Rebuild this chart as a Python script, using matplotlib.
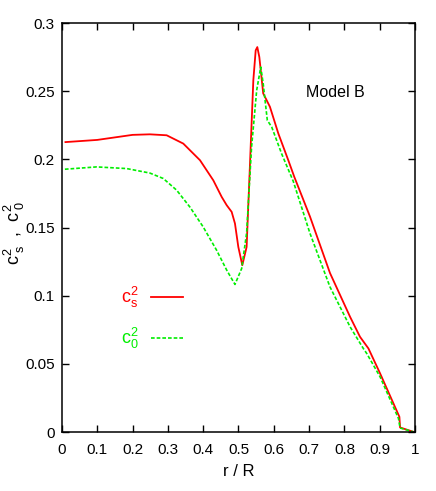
import matplotlib
matplotlib.use("Agg")
import matplotlib.pyplot as plt

plt.rcParams['font.family'] = ['Liberation Sans', 'DejaVu Sans']
plt.rcParams['mathtext.fontset'] = 'custom'
plt.rcParams['mathtext.rm'] = 'Liberation Sans'
plt.rcParams['mathtext.it'] = 'Liberation Sans'

# c_s^2 (red, solid)
r_s = [0.01, 0.10, 0.20, 0.249, 0.2966, 0.3437, 0.391, 0.4286, 0.4524, 0.4666, 0.4807,
       0.490, 0.4995, 0.5108, 0.523, 0.5326, 0.542, 0.5487, 0.5533, 0.559, 0.570,
       0.589, 0.6128, 0.641, 0.658, 0.7025, 0.759, 0.816, 0.844, 0.868, 0.901,
       0.9556, 0.9575, 0.995]
c_s = [0.2127, 0.2143, 0.2180, 0.2184, 0.2177, 0.2116, 0.1994, 0.1847, 0.1725, 0.1664, 0.1615,
       0.1530, 0.1358, 0.1224, 0.1358, 0.1970, 0.2580, 0.2800, 0.2824, 0.2751, 0.2484,
       0.2386, 0.2190, 0.1994, 0.1872, 0.1580, 0.1167, 0.0845, 0.0699, 0.0613, 0.0430,
       0.0112, 0.0034, 0.0002]

# c_0^2 (green, dashed)
r_0 = [0.0085, 0.098, 0.183, 0.249, 0.287, 0.325, 0.3626, 0.400, 0.438, 0.4666,
       0.490, 0.509, 0.523, 0.537, 0.5515, 0.563, 0.570, 0.5816, 0.594, 0.6224,
       0.655, 0.7025, 0.759, 0.816, 0.8535, 0.863, 0.901, 0.953, 0.9575, 0.995]
c_0 = [0.1928, 0.1945, 0.1933, 0.1900, 0.1860, 0.1774, 0.1650, 0.1505, 0.1334, 0.1188,
       0.1083, 0.1200, 0.1460, 0.2090, 0.2507, 0.2677, 0.2555, 0.2287, 0.2238, 0.2040,
       0.1840, 0.1457, 0.1065, 0.0772, 0.0613, 0.0577, 0.0405, 0.0100, 0.0030, 0.0002]

x_ticks = [0, 0.1, 0.2, 0.3, 0.4, 0.5, 0.6, 0.7, 0.8, 0.9, 1]
x_labels = ['0', '0.1', '0.2', '0.3', '0.4', '0.5', '0.6', '0.7', '0.8', '0.9', '1']
y_ticks = [0, 0.05, 0.1, 0.15, 0.2, 0.25, 0.3]
y_labels = ['0', '0.05', '0.1', '0.15', '0.2', '0.25', '0.3']

fig = plt.figure(figsize=(4.36, 4.91), dpi=100)
ax = fig.add_axes([0.142, 0.120, 0.810, 0.833])

red = '#ff0000'
green = '#00ee00'
ax.plot(r_s, c_s, color=red, lw=1.3, label=r'c$^2_{\rm s}$')
ax.plot(r_0, c_0, color=green, lw=1.2, ls=(0, (2.2, 1.2)), label=r'c$^2_{\rm 0}$')

ax.set_xlim(0, 1)
ax.set_ylim(0, 0.3)
ax.set_xticks(x_ticks)
ax.set_xticklabels(x_labels)
ax.set_yticks(y_ticks)
ax.set_yticklabels(y_labels)
ax.tick_params(direction='in', top=True, right=True, length=5, width=1,
               labelsize=11)
ax.tick_params(axis='x', pad=8)
ax.tick_params(axis='y', pad=5)
for s in ax.spines.values():
    s.set_linewidth(1.1)

ax.set_xlabel('r / R', fontsize=12, labelpad=5)
ax.set_ylabel(r'c$^{2}_{\;\rm s}$  ,  c$^{2}_{\;\rm 0}$', fontsize=13)
ax.yaxis.set_label_coords(-0.098, 0.487)

ax.text(0.773, 0.249, 'Model B', fontsize=11.5, ha='center', va='center')

leg = ax.legend(loc='upper left', bbox_to_anchor=(0.12, 0.40), frameon=False,
                markerfirst=False, handlelength=1.8, labelspacing=0.9,
                fontsize=13, labelcolor='linecolor', handletextpad=0.7)

fig.savefig('out.png', dpi=100)
